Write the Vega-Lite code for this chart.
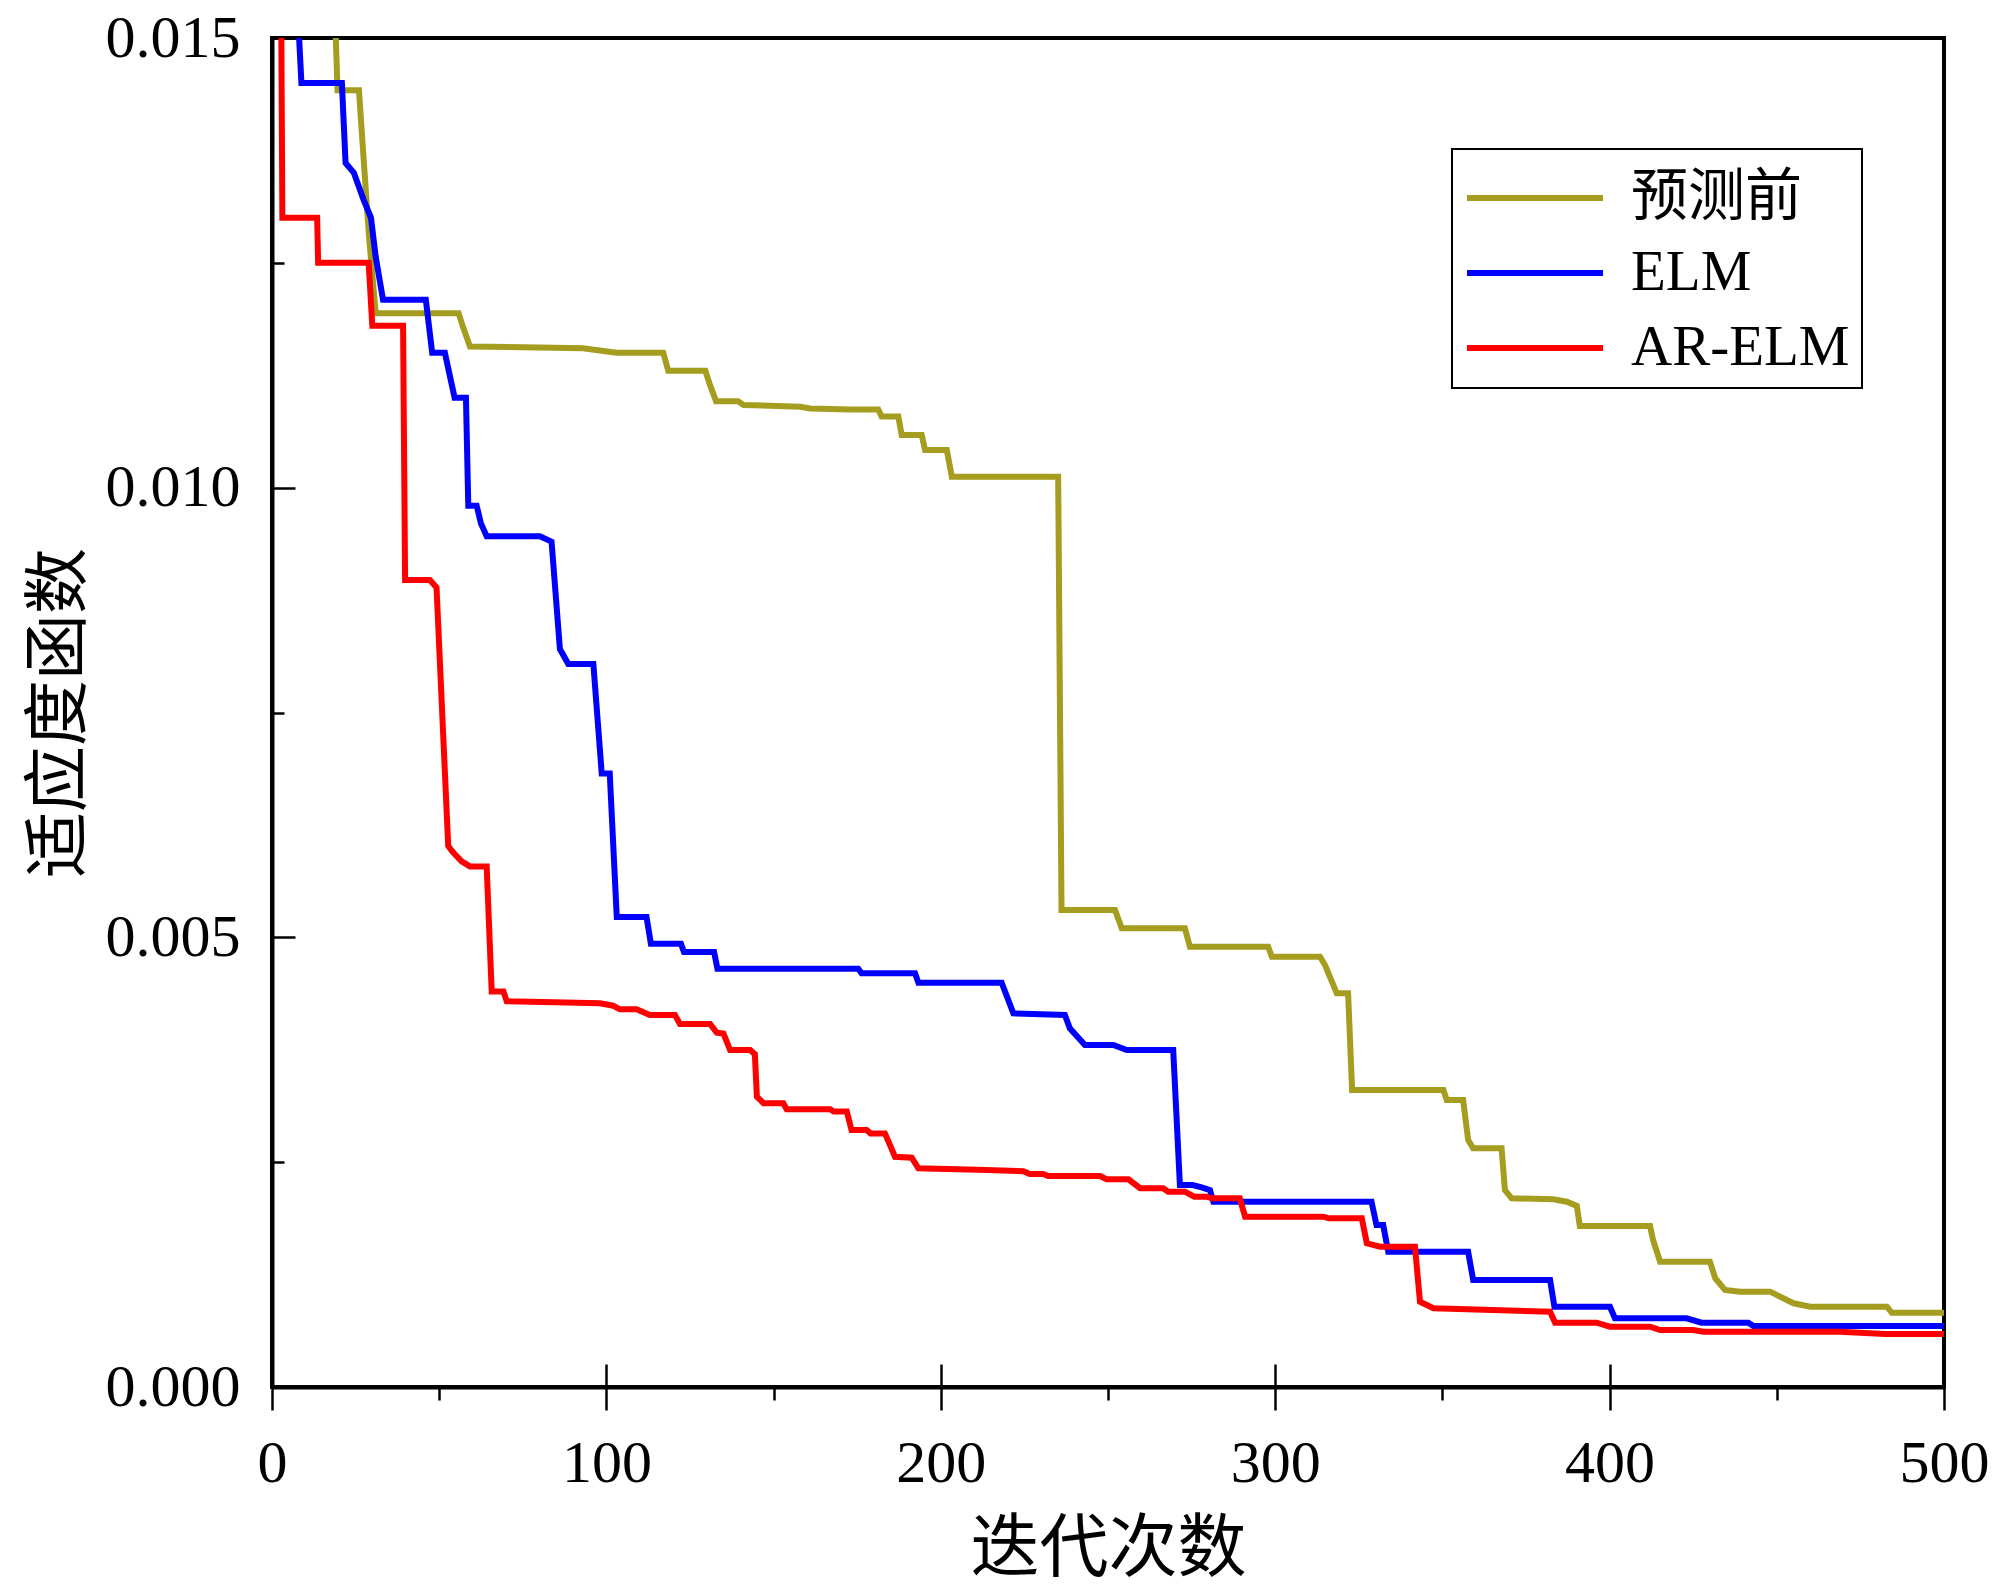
{
  "$schema": "https://vega.github.io/schema/vega-lite/v6.json",
  "width": 1672,
  "height": 1349,
  "autosize": {"type": "none"},
  "padding": {"left": 272, "top": 38, "right": 56, "bottom": 209},
  "background": "white",
  "config": {
    "view": {"stroke": "black", "strokeWidth": 4},
    "axis": {"grid": false, "domainColor": "black", "tickColor": "black", "labelColor": "black", "titleColor": "black"}
  },
  "datasets": {
    "curves": [
      {"series": "预测前", "iter": 18, "fitness": 0.0162},
      {"series": "预测前", "iter": 19.6, "fitness": 0.01442},
      {"series": "预测前", "iter": 26, "fitness": 0.01442},
      {"series": "预测前", "iter": 27.5, "fitness": 0.0136},
      {"series": "预测前", "iter": 29, "fitness": 0.0128},
      {"series": "预测前", "iter": 31, "fitness": 0.01194},
      {"series": "预测前", "iter": 55.8, "fitness": 0.01194},
      {"series": "预测前", "iter": 57, "fitness": 0.0118},
      {"series": "预测前", "iter": 59.2, "fitness": 0.01157},
      {"series": "预测前", "iter": 93, "fitness": 0.01155},
      {"series": "预测前", "iter": 103, "fitness": 0.0115},
      {"series": "预测前", "iter": 117, "fitness": 0.0115},
      {"series": "预测前", "iter": 118.5, "fitness": 0.0113},
      {"series": "预测前", "iter": 129.6, "fitness": 0.0113},
      {"series": "预测前", "iter": 131, "fitness": 0.01114},
      {"series": "预测前", "iter": 132.8, "fitness": 0.01096},
      {"series": "预测前", "iter": 139.4, "fitness": 0.01096},
      {"series": "预测前", "iter": 141, "fitness": 0.01092},
      {"series": "预测前", "iter": 158, "fitness": 0.0109},
      {"series": "预测前", "iter": 161, "fitness": 0.01088},
      {"series": "预测前", "iter": 172.8, "fitness": 0.01087},
      {"series": "预测前", "iter": 181.3, "fitness": 0.01087},
      {"series": "预测前", "iter": 182.3, "fitness": 0.01079},
      {"series": "预测前", "iter": 187.3, "fitness": 0.01079},
      {"series": "预测前", "iter": 188.3, "fitness": 0.010585},
      {"series": "预测前", "iter": 194.3, "fitness": 0.010585},
      {"series": "预测前", "iter": 195.3, "fitness": 0.010418},
      {"series": "预测前", "iter": 201.8, "fitness": 0.010418},
      {"series": "预测前", "iter": 203.3, "fitness": 0.010122},
      {"series": "预测前", "iter": 235.1, "fitness": 0.010122},
      {"series": "预测前", "iter": 236.1, "fitness": 0.005304},
      {"series": "预测前", "iter": 252.1, "fitness": 0.005304},
      {"series": "预测前", "iter": 254.1, "fitness": 0.0051},
      {"series": "预测前", "iter": 273, "fitness": 0.0051},
      {"series": "预测前", "iter": 274.5, "fitness": 0.004896},
      {"series": "预测前", "iter": 297.9, "fitness": 0.004896},
      {"series": "预测前", "iter": 299, "fitness": 0.004785},
      {"series": "预测前", "iter": 313.4, "fitness": 0.004785},
      {"series": "预测前", "iter": 314.9, "fitness": 0.004692},
      {"series": "预测前", "iter": 318.4, "fitness": 0.004377},
      {"series": "预测前", "iter": 321.8, "fitness": 0.004377},
      {"series": "预测前", "iter": 323, "fitness": 0.003302},
      {"series": "预测前", "iter": 350.3, "fitness": 0.003302},
      {"series": "预测前", "iter": 351.3, "fitness": 0.003191},
      {"series": "预测前", "iter": 356.2, "fitness": 0.003191},
      {"series": "预测前", "iter": 357.7, "fitness": 0.002746},
      {"series": "预测前", "iter": 359.2, "fitness": 0.002654},
      {"series": "预测前", "iter": 367.7, "fitness": 0.002654},
      {"series": "预测前", "iter": 368.7, "fitness": 0.00219},
      {"series": "预测前", "iter": 370.7, "fitness": 0.002098},
      {"series": "预测前", "iter": 383.2, "fitness": 0.002087},
      {"series": "预测前", "iter": 387.2, "fitness": 0.00206},
      {"series": "预测前", "iter": 390.2, "fitness": 0.002013},
      {"series": "预测前", "iter": 391.1, "fitness": 0.00179},
      {"series": "预测前", "iter": 412.1, "fitness": 0.00179},
      {"series": "预测前", "iter": 413, "fitness": 0.001634},
      {"series": "预测前", "iter": 415.1, "fitness": 0.001393},
      {"series": "预测前", "iter": 430, "fitness": 0.001393},
      {"series": "预测前", "iter": 431.6, "fitness": 0.001209},
      {"series": "预测前", "iter": 434.5, "fitness": 0.001079},
      {"series": "预测前", "iter": 439, "fitness": 0.00106},
      {"series": "预测前", "iter": 448, "fitness": 0.00106},
      {"series": "预测前", "iter": 455, "fitness": 0.000931},
      {"series": "预测前", "iter": 460, "fitness": 0.000893},
      {"series": "预测前", "iter": 482.9, "fitness": 0.000893},
      {"series": "预测前", "iter": 484.4, "fitness": 0.000826},
      {"series": "预测前", "iter": 500, "fitness": 0.000826},

      {"series": "ELM", "iter": 7, "fitness": 0.0158},
      {"series": "ELM", "iter": 8.8, "fitness": 0.0145},
      {"series": "ELM", "iter": 20.9, "fitness": 0.0145},
      {"series": "ELM", "iter": 22, "fitness": 0.01361},
      {"series": "ELM", "iter": 24.5, "fitness": 0.0135},
      {"series": "ELM", "iter": 27.4, "fitness": 0.0132},
      {"series": "ELM", "iter": 29.6, "fitness": 0.013},
      {"series": "ELM", "iter": 31, "fitness": 0.01257},
      {"series": "ELM", "iter": 33.2, "fitness": 0.01209},
      {"series": "ELM", "iter": 46, "fitness": 0.01209},
      {"series": "ELM", "iter": 47.9, "fitness": 0.0115},
      {"series": "ELM", "iter": 51.7, "fitness": 0.0115},
      {"series": "ELM", "iter": 54.6, "fitness": 0.011},
      {"series": "ELM", "iter": 58, "fitness": 0.011},
      {"series": "ELM", "iter": 58.7, "fitness": 0.0098},
      {"series": "ELM", "iter": 61.2, "fitness": 0.0098},
      {"series": "ELM", "iter": 62.5, "fitness": 0.0096},
      {"series": "ELM", "iter": 64.2, "fitness": 0.00946},
      {"series": "ELM", "iter": 80.1, "fitness": 0.00946},
      {"series": "ELM", "iter": 83.6, "fitness": 0.0094},
      {"series": "ELM", "iter": 86.1, "fitness": 0.008206},
      {"series": "ELM", "iter": 88.6, "fitness": 0.00804},
      {"series": "ELM", "iter": 96.1, "fitness": 0.00804},
      {"series": "ELM", "iter": 98.6, "fitness": 0.006823},
      {"series": "ELM", "iter": 101, "fitness": 0.006823},
      {"series": "ELM", "iter": 103.1, "fitness": 0.005227},
      {"series": "ELM", "iter": 112, "fitness": 0.005227},
      {"series": "ELM", "iter": 113.3, "fitness": 0.00493},
      {"series": "ELM", "iter": 122.3, "fitness": 0.00493},
      {"series": "ELM", "iter": 123.2, "fitness": 0.004837},
      {"series": "ELM", "iter": 132.2, "fitness": 0.004837},
      {"series": "ELM", "iter": 133.2, "fitness": 0.004652},
      {"series": "ELM", "iter": 175.3, "fitness": 0.004652},
      {"series": "ELM", "iter": 176.3, "fitness": 0.0046},
      {"series": "ELM", "iter": 192.3, "fitness": 0.0046},
      {"series": "ELM", "iter": 193.3, "fitness": 0.004496},
      {"series": "ELM", "iter": 218.2, "fitness": 0.004496},
      {"series": "ELM", "iter": 221.7, "fitness": 0.004155},
      {"series": "ELM", "iter": 237.1, "fitness": 0.004136},
      {"series": "ELM", "iter": 238.6, "fitness": 0.003988},
      {"series": "ELM", "iter": 243.1, "fitness": 0.003803},
      {"series": "ELM", "iter": 251.6, "fitness": 0.003803},
      {"series": "ELM", "iter": 255.6, "fitness": 0.003747},
      {"series": "ELM", "iter": 269.5, "fitness": 0.003747},
      {"series": "ELM", "iter": 271.5, "fitness": 0.002246},
      {"series": "ELM", "iter": 275.3, "fitness": 0.002246},
      {"series": "ELM", "iter": 278, "fitness": 0.00222},
      {"series": "ELM", "iter": 280.5, "fitness": 0.00219},
      {"series": "ELM", "iter": 281.5, "fitness": 0.00206},
      {"series": "ELM", "iter": 328.8, "fitness": 0.00206},
      {"series": "ELM", "iter": 330.3, "fitness": 0.0018},
      {"series": "ELM", "iter": 332.3, "fitness": 0.0018},
      {"series": "ELM", "iter": 333.8, "fitness": 0.001504},
      {"series": "ELM", "iter": 357.7, "fitness": 0.001504},
      {"series": "ELM", "iter": 359.2, "fitness": 0.00119},
      {"series": "ELM", "iter": 382.2, "fitness": 0.00119},
      {"series": "ELM", "iter": 383.5, "fitness": 0.000893},
      {"series": "ELM", "iter": 400.1, "fitness": 0.000893},
      {"series": "ELM", "iter": 401.6, "fitness": 0.000764},
      {"series": "ELM", "iter": 423, "fitness": 0.000764},
      {"series": "ELM", "iter": 427.5, "fitness": 0.000715},
      {"series": "ELM", "iter": 441.5, "fitness": 0.000715},
      {"series": "ELM", "iter": 443, "fitness": 0.000678},
      {"series": "ELM", "iter": 500, "fitness": 0.000678},

      {"series": "AR-ELM", "iter": 2.5, "fitness": 0.017},
      {"series": "AR-ELM", "iter": 3.1, "fitness": 0.013},
      {"series": "AR-ELM", "iter": 13.5, "fitness": 0.013},
      {"series": "AR-ELM", "iter": 13.8, "fitness": 0.0125},
      {"series": "AR-ELM", "iter": 28.9, "fitness": 0.0125},
      {"series": "AR-ELM", "iter": 30, "fitness": 0.0118},
      {"series": "AR-ELM", "iter": 39.2, "fitness": 0.0118},
      {"series": "AR-ELM", "iter": 39.8, "fitness": 0.008973},
      {"series": "AR-ELM", "iter": 47.2, "fitness": 0.008973},
      {"series": "AR-ELM", "iter": 49.2, "fitness": 0.00889},
      {"series": "AR-ELM", "iter": 52.7, "fitness": 0.006015},
      {"series": "AR-ELM", "iter": 54, "fitness": 0.00595},
      {"series": "AR-ELM", "iter": 56.7, "fitness": 0.005844},
      {"series": "AR-ELM", "iter": 59.2, "fitness": 0.005789},
      {"series": "AR-ELM", "iter": 64.2, "fitness": 0.005789},
      {"series": "AR-ELM", "iter": 65.7, "fitness": 0.004398},
      {"series": "AR-ELM", "iter": 69.2, "fitness": 0.004398},
      {"series": "AR-ELM", "iter": 70.2, "fitness": 0.00429},
      {"series": "AR-ELM", "iter": 98.1, "fitness": 0.004266},
      {"series": "AR-ELM", "iter": 102, "fitness": 0.00424},
      {"series": "AR-ELM", "iter": 104, "fitness": 0.0042},
      {"series": "AR-ELM", "iter": 109, "fitness": 0.0042},
      {"series": "AR-ELM", "iter": 113, "fitness": 0.004136},
      {"series": "AR-ELM", "iter": 120.5, "fitness": 0.004136},
      {"series": "AR-ELM", "iter": 122, "fitness": 0.004036},
      {"series": "AR-ELM", "iter": 131, "fitness": 0.004036},
      {"series": "AR-ELM", "iter": 133, "fitness": 0.00394},
      {"series": "AR-ELM", "iter": 135, "fitness": 0.00393},
      {"series": "AR-ELM", "iter": 137, "fitness": 0.003747},
      {"series": "AR-ELM", "iter": 143, "fitness": 0.003747},
      {"series": "AR-ELM", "iter": 144.4, "fitness": 0.0037},
      {"series": "AR-ELM", "iter": 145, "fitness": 0.003228},
      {"series": "AR-ELM", "iter": 147, "fitness": 0.003155},
      {"series": "AR-ELM", "iter": 152.9, "fitness": 0.003155},
      {"series": "AR-ELM", "iter": 153.9, "fitness": 0.003088},
      {"series": "AR-ELM", "iter": 166.9, "fitness": 0.003088},
      {"series": "AR-ELM", "iter": 168, "fitness": 0.003062},
      {"series": "AR-ELM", "iter": 171.9, "fitness": 0.003062},
      {"series": "AR-ELM", "iter": 173.3, "fitness": 0.002858},
      {"series": "AR-ELM", "iter": 177.8, "fitness": 0.002858},
      {"series": "AR-ELM", "iter": 179, "fitness": 0.00282},
      {"series": "AR-ELM", "iter": 183.3, "fitness": 0.00282},
      {"series": "AR-ELM", "iter": 186.3, "fitness": 0.00256},
      {"series": "AR-ELM", "iter": 191.3, "fitness": 0.00255},
      {"series": "AR-ELM", "iter": 193.3, "fitness": 0.002432},
      {"series": "AR-ELM", "iter": 213.6, "fitness": 0.002413},
      {"series": "AR-ELM", "iter": 224.7, "fitness": 0.0024},
      {"series": "AR-ELM", "iter": 226.6, "fitness": 0.002368},
      {"series": "AR-ELM", "iter": 230.6, "fitness": 0.002368},
      {"series": "AR-ELM", "iter": 232.1, "fitness": 0.002346},
      {"series": "AR-ELM", "iter": 247.6, "fitness": 0.002346},
      {"series": "AR-ELM", "iter": 249.6, "fitness": 0.00231},
      {"series": "AR-ELM", "iter": 256.1, "fitness": 0.00231},
      {"series": "AR-ELM", "iter": 259.6, "fitness": 0.00221},
      {"series": "AR-ELM", "iter": 266.5, "fitness": 0.00221},
      {"series": "AR-ELM", "iter": 268, "fitness": 0.002172},
      {"series": "AR-ELM", "iter": 273, "fitness": 0.002172},
      {"series": "AR-ELM", "iter": 275.8, "fitness": 0.002116},
      {"series": "AR-ELM", "iter": 279.5, "fitness": 0.002116},
      {"series": "AR-ELM", "iter": 281, "fitness": 0.002098},
      {"series": "AR-ELM", "iter": 289.4, "fitness": 0.002098},
      {"series": "AR-ELM", "iter": 291, "fitness": 0.001894},
      {"series": "AR-ELM", "iter": 314.4, "fitness": 0.001894},
      {"series": "AR-ELM", "iter": 316, "fitness": 0.001876},
      {"series": "AR-ELM", "iter": 325.9, "fitness": 0.001876},
      {"series": "AR-ELM", "iter": 327.4, "fitness": 0.001598},
      {"series": "AR-ELM", "iter": 331.4, "fitness": 0.00156},
      {"series": "AR-ELM", "iter": 341.8, "fitness": 0.00156},
      {"series": "AR-ELM", "iter": 343.3, "fitness": 0.000948},
      {"series": "AR-ELM", "iter": 347.3, "fitness": 0.000875},
      {"series": "AR-ELM", "iter": 382.2, "fitness": 0.000837},
      {"series": "AR-ELM", "iter": 383.7, "fitness": 0.000715},
      {"series": "AR-ELM", "iter": 396.1, "fitness": 0.000715},
      {"series": "AR-ELM", "iter": 400.1, "fitness": 0.00067},
      {"series": "AR-ELM", "iter": 412.1, "fitness": 0.00067},
      {"series": "AR-ELM", "iter": 415.1, "fitness": 0.000634},
      {"series": "AR-ELM", "iter": 425, "fitness": 0.000634},
      {"series": "AR-ELM", "iter": 428, "fitness": 0.000615},
      {"series": "AR-ELM", "iter": 468.9, "fitness": 0.000615},
      {"series": "AR-ELM", "iter": 482.4, "fitness": 0.000589},
      {"series": "AR-ELM", "iter": 500, "fitness": 0.000589}
    ]
  },
  "data": {"name": "curves"},
  "layer": [
    {
      "mark": {"type": "point", "opacity": 0},
      "encoding": {
        "x": {"field": "iter", "type": "quantitative", "scale": {"domain": [0, 500], "nice": false, "zero": false},
          "axis": {"orient": "bottom", "values": [0, 100, 200, 300, 400, 500], "tickSize": -23, "tickWidth": 2.5, "labels": false, "domain": false, "title": null}},
        "y": {"field": "fitness", "type": "quantitative", "scale": {"domain": [0, 0.015], "nice": false, "zero": false},
          "axis": {"orient": "left", "values": [0, 0.005, 0.01, 0.015], "tickSize": -23, "tickWidth": 2.5, "labels": false, "domain": false, "title": null}}
      }
    },
    {
      "mark": {"type": "point", "opacity": 0},
      "encoding": {
        "x": {"field": "iter", "type": "quantitative", "scale": {"domain": [0, 500], "nice": false, "zero": false},
          "axis": {"orient": "bottom", "values": [50, 150, 250, 350, 450], "tickSize": 13, "tickWidth": 2.5, "labels": false, "domain": false, "title": null}},
        "y": {"field": "fitness", "type": "quantitative", "scale": {"domain": [0, 0.015], "nice": false, "zero": false},
          "axis": {"orient": "left", "values": [0.0025, 0.0075, 0.0125], "tickSize": -12, "tickWidth": 2.5, "labels": false, "domain": false, "title": null}}
      }
    },
    {
      "mark": {"type": "line", "strokeWidth": 6, "clip": true},
      "encoding": {
        "x": {"field": "iter", "type": "quantitative", "scale": {"domain": [0, 500], "nice": false, "zero": false},
          "axis": {"orient": "bottom", "values": [0, 100, 200, 300, 400, 500], "tickSize": 23, "tickWidth": 2.5, "domainWidth": 4,
            "labelFont": "Liberation Serif", "labelFontSize": 60, "labelPadding": 24, "labelFlush": false,
            "title": "迭代次数", "titleFont": "Noto Sans CJK SC", "titleFontSize": 69, "titleFontWeight": "normal", "titlePadding": 22}},
        "y": {"field": "fitness", "type": "quantitative", "scale": {"domain": [0, 0.015], "nice": false, "zero": false},
          "axis": {"orient": "left", "values": [0, 0.005, 0.01, 0.015], "format": ".3f", "ticks": false, "domainWidth": 4,
            "labelFont": "Liberation Serif", "labelFontSize": 60, "labelPadding": 32, "labelFlush": false,
            "title": "适应度函数", "titleFont": "Noto Sans CJK SC", "titleFontSize": 66, "titleFontWeight": "normal", "titlePadding": 12}},
        "color": {"field": "series", "type": "nominal",
          "scale": {"domain": ["预测前", "ELM", "AR-ELM"], "range": ["#A59D1F", "#0000FF", "#FF0000"]},
          "legend": {"orient": "none", "legendX": 1180, "legendY": 111, "title": null,
            "strokeColor": "black", "padding": 12,
            "symbolType": "M-1,0H3", "symbolSize": 4624, "symbolStrokeWidth": 6,
            "labelFont": "Liberation Serif, Noto Sans CJK SC", "labelFontSize": 57, "labelOffset": 93, "labelLimit": 500,
            "rowPadding": 10,
            "encode": {"legend": {"update": {"strokeWidth": {"value": 2}}}}}}
      }
    }
  ],
  "resolve": {"scale": {"x": "independent", "y": "independent"}, "axis": {"x": "independent", "y": "independent"}}
}
